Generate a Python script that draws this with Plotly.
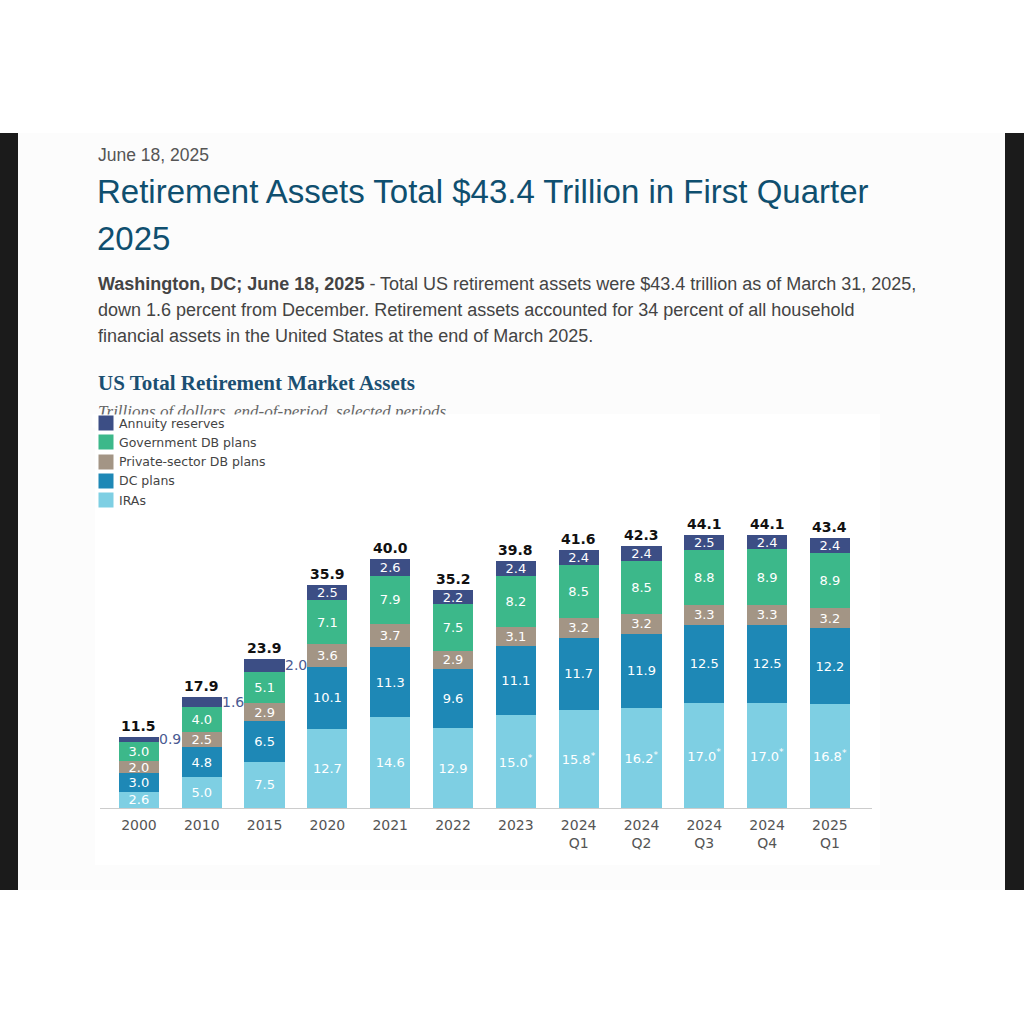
import plotly.graph_objects as go

# ---------------- data ----------------
periods = ["2000", "2010", "2015", "2020", "2021", "2022", "2023",
           "2024 Q1", "2024 Q2", "2024 Q3", "2024 Q4", "2025 Q1"]
tick_labels = ["2000", "2010", "2015", "2020", "2021", "2022", "2023",
               "2024<br>Q1", "2024<br>Q2", "2024<br>Q3", "2024<br>Q4", "2025<br>Q1"]
iras = [2.6, 5.0, 7.5, 12.7, 14.6, 12.9, 15.0, 15.8, 16.2, 17.0, 17.0, 16.8]
ira_estimated = [False, False, False, False, False, False, True, True, True, True, True, True]
dc_plans = [3.0, 4.8, 6.5, 10.1, 11.3, 9.6, 11.1, 11.7, 11.9, 12.5, 12.5, 12.2]
private_db = [2.0, 2.5, 2.9, 3.6, 3.7, 2.9, 3.1, 3.2, 3.2, 3.3, 3.3, 3.2]
government_db = [3.0, 4.0, 5.1, 7.1, 7.9, 7.5, 8.2, 8.5, 8.5, 8.8, 8.9, 8.9]
annuity = [0.9, 1.6, 2.0, 2.5, 2.6, 2.2, 2.4, 2.4, 2.4, 2.5, 2.4, 2.4]
totals = [11.5, 17.9, 23.9, 35.9, 40.0, 35.2, 39.8, 41.6, 42.3, 44.1, 44.1, 43.4]

series_names = ["IRAs", "DC plans", "Private-sector DB plans", "Government DB plans", "Annuity reserves"]
series_values = [iras, dc_plans, private_db, government_db, annuity]
series_colors = ["#7ecfe3", "#1e88b6", "#a39585", "#3cb88a", "#3c4e85"]

W = H = 1024
def px(x):
    return x / W
def py(y):
    return 1 - y / H

SANS = "Liberation Sans, Arial, sans-serif"
SERIF = "Liberation Serif, Times New Roman, serif"
CHART_FONT = "DejaVu Sans, Noto Sans, sans-serif"

fig = go.Figure()

# ---------------- bars ----------------
for name, vals, col in zip(series_names, series_values, series_colors):
    texts = []
    for i, v in enumerate(vals):
        if name == "Annuity reserves" and v <= 2.0:
            texts.append("")
        elif name == "IRAs" and ira_estimated[i]:
            texts.append(f"{v:.1f}<sup>*</sup>")
        else:
            texts.append(f"{v:.1f}")
    fig.add_trace(go.Bar(
        x=list(range(len(periods))), y=vals, name=name, marker=dict(color=col, line=dict(width=0)),
        text=texts, textposition="inside", insidetextanchor="middle", textangle=0,
        textfont=dict(color="white", size=13, family=CHART_FONT),
        hoverinfo="skip", showlegend=False,
    ))

annotations = []
shapes = []

# totals and small annuity labels
for i, p in enumerate(periods):
    top = sum(s[i] for s in series_values)
    annotations.append(dict(x=i, y=top, xref="x", yref="y", text=f"<b>{totals[i]:.1f}</b>",
                            showarrow=False, yanchor="bottom", yshift=1,
                            font=dict(size=14, color="#111111", family=CHART_FONT)))
    if annuity[i] <= 2.0:
        annotations.append(dict(x=i, y=top - annuity[i] / 2, xref="x", yref="y",
                                text=f"{annuity[i]:.1f}", showarrow=False,
                                xanchor="left", xshift=18,
                                font=dict(size=14, color="#4a5a92", family=CHART_FONT)))

# ---------------- page background ----------------
shapes.append(dict(type="rect", xref="paper", yref="paper", x0=px(18), x1=px(1005),
                   y0=py(890), y1=py(133), fillcolor="#fcfcfc", line=dict(width=0), layer="below"))
shapes.append(dict(type="rect", xref="paper", yref="paper", x0=px(95), x1=px(880),
                   y0=py(865), y1=py(414), fillcolor="#ffffff", line=dict(width=0), layer="below"))
shapes.append(dict(type="rect", xref="paper", yref="paper", x0=0, x1=px(18),
                   y0=py(890), y1=py(133), fillcolor="#1b1b1b", line=dict(width=0), layer="below"))
shapes.append(dict(type="rect", xref="paper", yref="paper", x0=px(1005), x1=1,
                   y0=py(890), y1=py(133), fillcolor="#1b1b1b", line=dict(width=0), layer="below"))

# ---------------- page text ----------------
def text(x, y, s, size, color, family, anchor="left", **kw):
    annotations.append(dict(x=px(x), y=py(y), xref="paper", yref="paper", text=s, showarrow=False,
                            xanchor=anchor, yanchor="middle", font=dict(size=size, color=color, family=family), **kw))

text(96, 155, "June 18, 2025", 17.5, "#555555", SANS)
text(95, 191, "Retirement Assets Total $43.4 Trillion in First Quarter", 33, "#0f4f6f", SANS)
text(95, 238, "2025", 33, "#0f4f6f", SANS)
text(96, 284, "<b>Washington, DC; June 18, 2025</b> - Total US retirement assets were $43.4 trillion as of March 31, 2025,",
     18, "#444444", SANS)
text(96, 310, "down 1.6 percent from December. Retirement assets accounted for 34 percent of all household", 18, "#444444", SANS)
text(96, 336, "financial assets in the United States at the end of March 2025.", 18, "#444444", SANS)
text(96, 383, "<b>US Total Retirement Market Assets</b>", 21, "#1b4f72", SERIF)
text(96, 411, "<i>Trillions of dollars, end-of-period, selected periods</i>", 17, "#666666", SERIF)
# clip lower half of the subtitle (overlaid chart image)
annotations.append(dict(x=px(92), y=py(414), xref="paper", yref="paper", text=" ", showarrow=False,
                        xanchor="left", yanchor="top", width=420, height=12, bgcolor="#ffffff", borderpad=0))

# ---------------- manual legend (drawn above the clipping box) ----------------
for k, idx in enumerate([4, 3, 2, 1, 0]):
    yc = 423 + k * 19.3
    annotations.append(dict(x=px(98), y=py(yc), xref="paper", yref="paper", text=" ", showarrow=False,
                            xanchor="left", yanchor="middle", width=14, height=14, borderpad=0,
                            bgcolor=series_colors[idx], font=dict(size=8)))
    text(117, yc, series_names[idx], 12.5, "#444444", CHART_FONT)

fig.update_layout(
    width=W, height=H, margin=dict(l=0, r=0, t=0, b=0),
    paper_bgcolor="#ffffff", plot_bgcolor="rgba(0,0,0,0)",
    barmode="stack", bargap=0.36, showlegend=False,
    uniformtext=dict(minsize=13, mode="show"),
    xaxis=dict(domain=[px(100), px(872)], range=[-0.62, 11.67],
               tickvals=list(range(len(periods))), ticktext=tick_labels,
               showline=True, linecolor="#cccccc", linewidth=1, zeroline=False,
               showgrid=False, ticks="", ticklabelstandoff=4,
               tickfont=dict(size=14, color="#555555", family=CHART_FONT),
               fixedrange=True),
    yaxis=dict(domain=[py(808), py(420)], range=[0, 388 / 6.2], visible=False, showgrid=False,
               zeroline=False, fixedrange=True),
    annotations=annotations, shapes=shapes,
)

fig.write_html("out.html")
